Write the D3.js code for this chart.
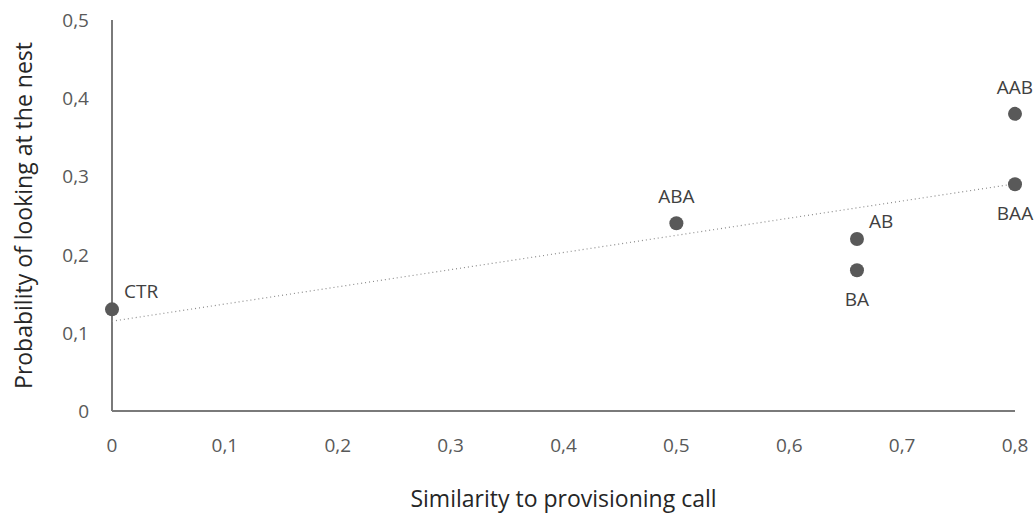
<!DOCTYPE html>
<html>
<head>
<meta charset="utf-8">
<script src="https://cdn.jsdelivr.net/npm/d3@7"></script>
<style>
  body { margin: 0; background: #fff; }
  text { font-family: "Open Sans", sans-serif; }
</style>
</head>
<body>
<svg id="chart" width="1035" height="522"></svg>
<script>
// data
let labels = ["CTR", "ABA", "AB", "BA", "AAB", "BAA"];
let similarity = [0, 0.5, 0.66, 0.66, 0.8, 0.8];
let probability = [0.13, 0.24, 0.22, 0.18, 0.38, 0.29];
let xTicks = [0, 0.1, 0.2, 0.3, 0.4, 0.5, 0.6, 0.7, 0.8];
let yTicks = [0, 0.1, 0.2, 0.3, 0.4, 0.5];
// label placement: right, above, below
let labelPos = ["right", "above", "right", "below", "above", "below"];

let svg = d3.select("#chart");
let x = d3.scaleLinear().domain([0, 0.8]).range([112, 1015]);
let y = d3.scaleLinear().domain([0, 0.5]).range([411, 20]);
let fmt = d => d === 0 ? "0" : d3.format(".1f")(d).replace(".", ",");
let axisColor = "#7a7a7a", textColor = "#595959", dotColor = "#595959";

// axes lines
svg.append("line")
    .attr("x1", x(0)).attr("x2", x(0))
    .attr("y1", y(0.5)).attr("y2", y(0))
    .style("stroke", axisColor).style("stroke-width", 2);
svg.append("line")
    .attr("x1", x(0)).attr("x2", x(0.8))
    .attr("y1", y(0)).attr("y2", y(0))
    .style("stroke", axisColor).style("stroke-width", 2);

// tick labels
svg.selectAll(".xt").data(xTicks).enter().append("text")
    .attr("class", "xt")
    .attr("x", d => x(d)).attr("y", 452)
    .style("text-anchor", "middle").style("font-size", "19px")
    .style("fill", textColor).text(fmt);
svg.selectAll(".yt").data(yTicks).enter().append("text")
    .attr("class", "yt")
    .attr("x", 89).attr("y", d => y(d) + 7)
    .style("text-anchor", "end").style("font-size", "19px")
    .style("fill", textColor).text(fmt);

// axis titles
svg.append("text")
    .attr("x", x(0.4)).attr("y", 507)
    .style("text-anchor", "middle").style("font-size", "23px")
    .style("fill", "#262626").text("Similarity to provisioning call");
svg.append("text")
    .attr("transform", "translate(32," + ((y(0) + y(0.5)) / 2) + ") rotate(-90)")
    .style("text-anchor", "middle").style("font-size", "23px")
    .style("fill", "#262626").text("Probability of looking at the nest");

// linear trend line
let mx = d3.mean(similarity), my = d3.mean(probability);
let sxy = d3.sum(similarity, (d, i) => (d - mx) * (probability[i] - my));
let sxx = d3.sum(similarity, d => (d - mx) * (d - mx));
let slope = sxy / sxx, intercept = my - slope * mx;
svg.append("line")
    .attr("x1", x(0)).attr("y1", y(intercept))
    .attr("x2", x(0.8)).attr("y2", y(intercept + slope * 0.8))
    .style("stroke", "#8c8c8c").style("stroke-width", 1.2)
    .style("stroke-dasharray", "1 3");

// points
svg.selectAll(".dot").data(similarity).enter().append("circle")
    .attr("class", "dot")
    .attr("cx", d => x(d)).attr("cy", (d, i) => y(probability[i]))
    .attr("r", 7).style("fill", dotColor);

// point labels
svg.selectAll(".lbl").data(similarity).enter().append("text")
    .attr("class", "lbl")
    .attr("x", (d, i) => labelPos[i] === "right" ? x(d) + 12 : x(d))
    .attr("y", (d, i) => {
        let cy = y(probability[i]);
        if (labelPos[i] === "above") return cy - 20;
        if (labelPos[i] === "below") return cy + 36;
        return cy - 11;
    })
    .style("text-anchor", (d, i) => labelPos[i] === "right" ? "start" : "middle")
    .style("font-size", "19px").style("fill", "#404040")
    .text((d, i) => labels[i]);
</script>
</body>
</html>
